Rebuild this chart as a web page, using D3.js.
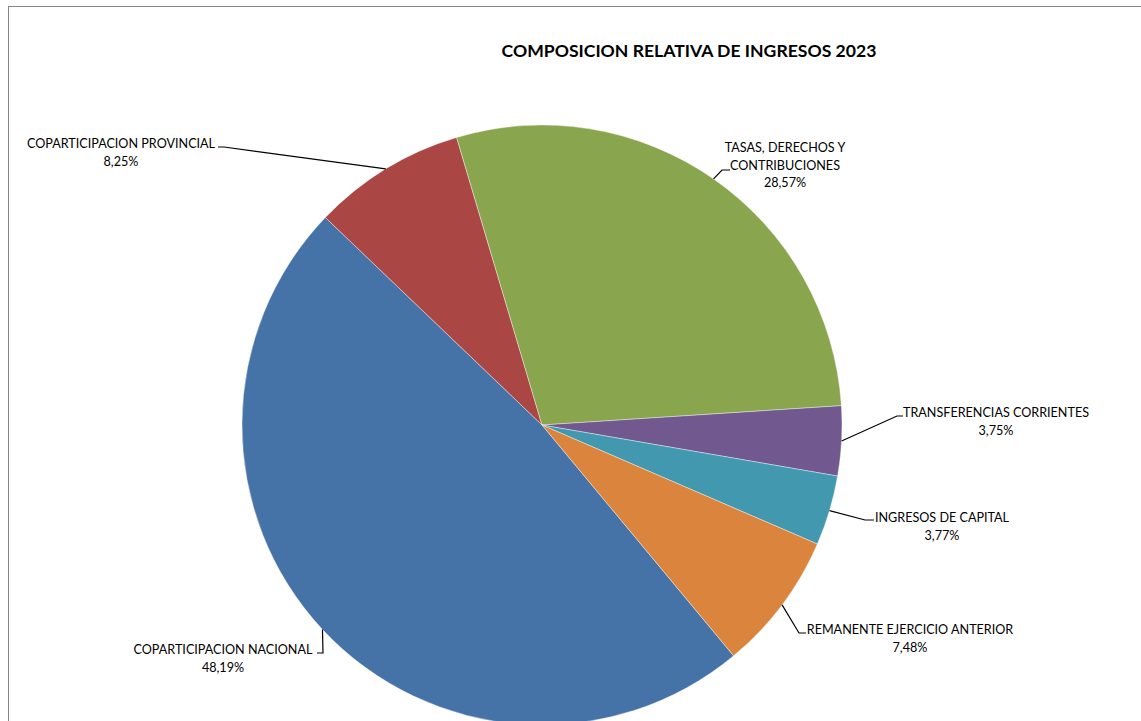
<!DOCTYPE html>
<html>
<head>
<meta charset="utf-8">
<script src="https://cdn.jsdelivr.net/npm/d3@7"></script>
<style>
  body { margin: 0; background: #fff; }
  text { font-family: Lato, "Noto Sans", sans-serif; fill: #000; }
</style>
</head>
<body>
<div id="chart"></div>
<script>
// Data
const categories = ["COPARTICIPACION NACIONAL", "COPARTICIPACION PROVINCIAL",
                    "TASAS, DERECHOS Y CONTRIBUCIONES", "TRANSFERENCIAS CORRIENTES",
                    "INGRESOS DE CAPITAL", "REMANENTE EJERCICIO ANTERIOR"];
const values = [48.19, 8.25, 28.57, 3.75, 3.77, 7.48];
const valueLabels = ["48,19%", "8,25%", "28,57%", "3,75%", "3,77%", "7,48%"];
const labelLines = [["COPARTICIPACION NACIONAL"], ["COPARTICIPACION PROVINCIAL"],
                    ["TASAS, DERECHOS Y", "CONTRIBUCIONES"], ["TRANSFERENCIAS CORRIENTES"],
                    ["INGRESOS DE CAPITAL"], ["REMANENTE EJERCICIO ANTERIOR"]];
const colors = ["#4572A7", "#AA4643", "#89A54E", "#71588F", "#4198AF", "#DB843D"];

// Layout
const width = 1141, height = 721;
const cx = 542, cy = 425, radius = 300;
const firstSliceAngle = 140.3; // degrees, clockwise from 12 o'clock
const lineHeight = 17.6;

// label layout: elbow points of leader, text centre and first baseline
const labelLayout = [
  {elbow: [[323, 653], [317, 653]], tx: 223, ty: 654},
  {elbow: [[224, 147], [218, 147]], tx: 121, ty: 148},
  {elbow: [[722, 170], [730, 170]], tx: 785, ty: 152},
  {elbow: [[897, 416], [903, 416]], tx: 996, ty: 417},
  {elbow: [[865, 520], [874, 520]], tx: 942, ty: 522},
  {elbow: [[799, 633], [806, 633]], tx: 910, ty: 634}
];

const svg = d3.select("#chart")
              .append("svg")
              .attr("width", width)
              .attr("height", height);

// chart area border
svg.append("rect")
   .attr("x", 8.5)
   .attr("y", 6.5)
   .attr("width", width + 20)
   .attr("height", height + 20)
   .attr("fill", "#fff")
   .attr("stroke", "#868686")
   .attr("stroke-width", 1);

// title
svg.append("text")
   .attr("x", 689)
   .attr("y", 57)
   .attr("text-anchor", "middle")
   .attr("font-size", "17.6px")
   .attr("font-weight", "bold")
   .text("COMPOSICION RELATIVA DE INGRESOS 2023");

const start = firstSliceAngle * Math.PI / 180;
const pie = d3.pie()
              .sort(null)
              .value((d) => {return d;})
              .startAngle(start)
              .endAngle(start + 2 * Math.PI);

const arcs = pie(values);
const arc = d3.arc().innerRadius(0).outerRadius(radius);

const g = svg.append("g")
             .attr("transform", "translate(" + cx + "," + cy + ")");

g.selectAll("path")
 .data(arcs)
 .enter()
 .append("path")
 .attr("d", arc)
 .attr("fill", (d, i) => {return colors[i];})
 .attr("stroke", "#fff")
 .attr("stroke-width", 0.4);

// leader lines from the slice edge to each label
arcs.forEach((d, i) => {
  const mid = (d.startAngle + d.endAngle) / 2;
  const p0 = [cx + radius * Math.sin(mid), cy - radius * Math.cos(mid)];
  const pts = [p0].concat(labelLayout[i].elbow);
  svg.append("path")
     .attr("d", d3.line()(pts))
     .attr("fill", "none")
     .attr("stroke", "#000")
     .attr("stroke-width", 1.2);

  const lines = labelLines[i].concat([valueLabels[i]]);
  const t = svg.append("text")
               .attr("text-anchor", "middle")
               .attr("font-size", "12.6px");
  lines.forEach((s, j) => {
    t.append("tspan")
     .attr("x", labelLayout[i].tx)
     .attr("y", labelLayout[i].ty + j * lineHeight)
     .text(s);
  });
});
</script>
</body>
</html>
